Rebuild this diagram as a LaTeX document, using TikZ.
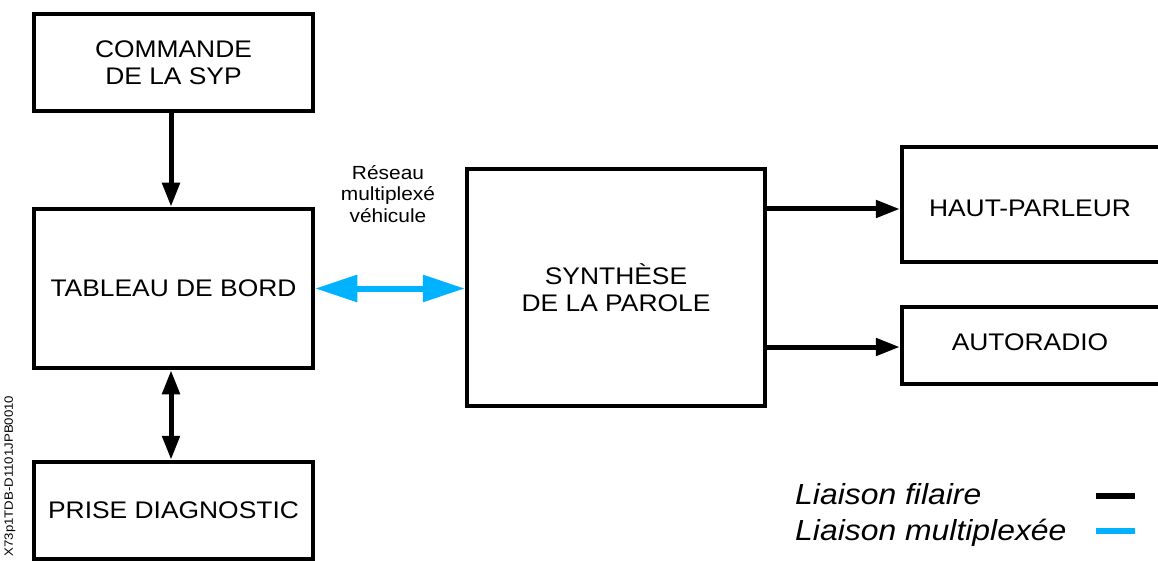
\documentclass[tikz,border=0pt]{standalone}
\usepackage{fontspec}
\setmainfont{Liberation Sans}[FakeStretch=1.1]
\usetikzlibrary{arrows.meta}
\definecolor{mplx}{RGB}{0,178,255}
\tikzset{
  blockbox/.style={draw=black, line width=4.5pt, fill=white, inner sep=0pt, align=center,
    font=\fontsize{24}{27.5}\selectfont},
  wire/.style={line width=5pt, -{Triangle[length=24pt,width=17pt]}},
  wireboth/.style={line width=5pt, {Triangle[length=24pt,width=17pt]}-{Triangle[length=24pt,width=17pt]}},
  bus/.style={draw=mplx, line width=6pt, {Triangle[length=42pt,width=26pt]}-{Triangle[length=42pt,width=26pt]}},
  legendtext/.style={anchor=base west, inner sep=0pt, font=\fontsize{29}{33}\selectfont\itshape},
}
\begin{document}
\begin{tikzpicture}[x=1pt,y=-1pt]
\useasboundingbox (0,0) rectangle (1158,561);
\clip (0,0) rectangle (1158,561);
% boxes
\node[blockbox, minimum width=279pt, minimum height=97pt] (cmd) at (173.5,62.5) {COMMANDE\\DE LA SYP};
\node[blockbox, minimum width=279pt, minimum height=159pt] (tdb) at (173.5,288.5) {TABLEAU DE BORD};
\node[blockbox, minimum width=279pt, minimum height=97pt] (diag) at (173.5,510.5) {PRISE DIAGNOSTIC};
\node[blockbox, minimum width=298pt, minimum height=237pt] (syn) at (616,287.5) {SYNTHÈSE\\DE LA PAROLE};
\node[blockbox, minimum width=270pt, minimum height=115pt,
  label={[xshift=-7pt, yshift=-3.5pt, font=\fontsize{24}{27.5}\selectfont]center:HAUT-PARLEUR}] (hp) at (1037,204.5) {};
\node[blockbox, minimum width=270pt, minimum height=77pt,
  label={[xshift=-7pt, yshift=3pt, font=\fontsize{24}{27.5}\selectfont]center:AUTORADIO}] (ar) at (1037,345.5) {};
% connectors
\draw[wire] ([xshift=-2.5pt]cmd.south) -- ([xshift=-2.5pt]tdb.north);
\draw[wireboth] ([xshift=-2.5pt]tdb.south) -- ([xshift=-2.5pt]diag.north);
\draw[bus] (tdb.east) -- (tdb.east -| syn.west);
\draw[wire] ([yshift=-4.5pt]syn.east |- hp.west) -- ([yshift=-4.5pt]hp.west);
\draw[wire] ([yshift=-1.5pt]syn.east |- ar.west) -- ([yshift=-1.5pt]ar.west);
% network label
\node[align=center, inner sep=0pt, font=\fontsize{19}{21.5}\selectfont] (net) at (388,194) {Réseau\\multiplexé\\véhicule};
% legend
\node[legendtext] (lf) at (795,504) {Liaison filaire};
\node[legendtext] (lm) at (795,540) {Liaison multiplexée};
\draw[line width=6pt, black] (1096,496) -- (1135,496);
\draw[line width=6pt, mplx] (1096,531) -- (1135,531);
% side reference
\node[rotate=90, inner sep=0pt, font=\fontsize{12}{14}\selectfont] (ref) at (10,476) {X73p1TDB-D1101JPB0010};
\end{tikzpicture}
\end{document}
